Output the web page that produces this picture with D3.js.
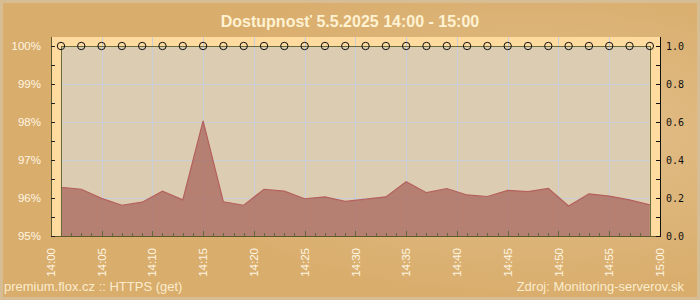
<!DOCTYPE html>
<html>
<head>
<meta charset="utf-8">
<script src="https://cdn.jsdelivr.net/npm/d3@7"></script>
<style>
  body { margin: 0; background: #dbb06e; }
  svg { display: block; }
</style>
</head>
<body>
<div id="graph"></div>
<script>
// chart data
var title = "Dostupnosť 5.5.2025 14:00 - 15:00";
var sourceLeft = "premium.flox.cz :: HTTPS (get)";
var sourceRight = "Zdroj: Monitoring-serverov.sk";

// sample minutes after 14:00 (one sample every 2 minutes)
var minutes = [1, 3, 5, 7, 9, 11, 13, 15, 17, 19, 21, 23, 25, 27, 29,
               31, 33, 35, 37, 39, 41, 43, 45, 47, 49, 51, 53, 55, 57, 59];
// availability in %
var availability = [96.28, 96.23, 95.99, 95.81, 95.89, 96.18, 95.95, 98.03, 95.90, 95.81,
                    96.23, 96.18, 95.98, 96.03, 95.91, 95.97, 96.03, 96.43, 96.14, 96.25,
                    96.08, 96.04, 96.20, 96.17, 96.25, 95.79, 96.11, 96.05, 95.95, 95.82];
// up state (right axis)
var upState = [1, 1, 1, 1, 1, 1, 1, 1, 1, 1, 1, 1, 1, 1, 1,
               1, 1, 1, 1, 1, 1, 1, 1, 1, 1, 1, 1, 1, 1, 1];

var pctTicks = [95, 96, 97, 98, 99, 100];
var pctMinor = [95.5, 96.5, 97.5, 98.5, 99.5];
var stateTicks = [0, 0.2, 0.4, 0.6, 0.8, 1.0];
var stateMinor = [0.1, 0.3, 0.5, 0.7, 0.9];
var timeLabels = ["14:00", "14:05", "14:10", "14:15", "14:20", "14:25", "14:30",
                  "14:35", "14:40", "14:45", "14:50", "14:55", "15:00"];

var w = 700;
var h = 300;

var vis = d3.select("#graph")
  .append("svg")
  .attr("width", w)
  .attr("height", h);

var defs = vis.append("defs");
var glow = defs.append("radialGradient")
  .attr("id", "glow")
  .attr("cx", "0.75").attr("cy", "0.45").attr("r", "0.55");
glow.append("stop").attr("offset", "0").attr("stop-color", "#e2c08c");
glow.append("stop").attr("offset", "1").attr("stop-color", "#d9ad6c");

// outer background + frame
vis.append("rect")
  .attr("x", 0).attr("y", 0)
  .attr("width", w).attr("height", h)
  .attr("fill", "url(#glow)");
vis.append("rect")
  .attr("x", 1.5).attr("y", 1.5)
  .attr("width", w - 3).attr("height", h - 3)
  .attr("fill", "none")
  .attr("stroke", "#d7bd93")
  .attr("stroke-width", 3);

// scales
var x = d3.scaleLinear().domain([0, 60]).range([50.8, 660]);
var y = d3.scaleLinear().domain([95, 100]).range([236, 46]);
var y2 = d3.scaleLinear().domain([0, 1]).range([236, 46]);

var pnLeft = 51, pnRight = 660, pnTop = 37, pnBottom = 236;
var pLeft = x(1), pRight = x(59);

// peach panel
vis.append("rect")
  .attr("x", pnLeft).attr("y", pnTop)
  .attr("width", pnRight - pnLeft).attr("height", pnBottom - pnTop)
  .attr("fill", "#ffdb9f");

// inner plot area
vis.append("rect")
  .attr("x", pLeft).attr("y", y(100))
  .attr("width", pRight - pLeft).attr("height", pnBottom - y(100))
  .attr("fill", "#dccdb2");

// grid
vis.selectAll(".hgrid")
  .data(pctTicks.slice(1, 5))
  .enter()
  .append("line")
  .attr("class", "hgrid")
  .attr("x1", pLeft).attr("x2", pRight)
  .attr("y1", function(d) { return y(d) + 0.5; })
  .attr("y2", function(d) { return y(d) + 0.5; })
  .style("stroke", "#c8cdd8");

vis.selectAll(".vgrid")
  .data(d3.range(5, 60, 5))
  .enter()
  .append("line")
  .attr("class", "vgrid")
  .attr("x1", function(d) { return Math.round(x(d)) + 0.5; })
  .attr("x2", function(d) { return Math.round(x(d)) + 0.5; })
  .attr("y1", pnTop).attr("y2", pnBottom)
  .style("stroke", "#c8cdd8");

// availability area
var series = minutes.map(function(m, i) { return {m: m, v: availability[i]}; });

var area = d3.area()
  .x(function(d) { return x(d.m); })
  .y0(pnBottom)
  .y1(function(d) { return y(d.v); });

var line = d3.line()
  .x(function(d) { return x(d.m); })
  .y(function(d) { return y(d.v); });

vis.append("path")
  .datum(series)
  .attr("d", area)
  .attr("fill", "#a8675c")
  .attr("fill-opacity", 0.76);

vis.append("path")
  .datum(series)
  .attr("d", line)
  .attr("fill", "none")
  .style("stroke", "#b4615c")
  .style("stroke-width", 1.2);

// plot border
vis.append("rect")
  .attr("x", Math.round(pLeft) + 0.5).attr("y", y(100) + 0.5)
  .attr("width", Math.round(pRight) - Math.round(pLeft)).attr("height", pnBottom - y(100))
  .attr("fill", "none")
  .style("stroke", "#6b6c3c");

// bottom minute ticks
vis.selectAll(".xtick")
  .data(d3.range(1, 60))
  .enter()
  .append("line")
  .attr("class", "xtick")
  .attr("x1", function(d) { return Math.round(x(d)) + 0.5; })
  .attr("x2", function(d) { return Math.round(x(d)) + 0.5; })
  .attr("y1", pnBottom)
  .attr("y2", function(d) { return d % 5 === 0 ? pnBottom - 5 : pnBottom - 3; })
  .style("stroke", "#5f6a38");

// panel bottom line
vis.append("line")
  .attr("x1", pnLeft).attr("x2", pnRight)
  .attr("y1", pnBottom + 0.5).attr("y2", pnBottom + 0.5)
  .style("stroke", "#5f5a30");

// left axis
vis.append("line")
  .attr("x1", pnLeft + 0.5).attr("x2", pnLeft + 0.5)
  .attr("y1", pnTop).attr("y2", pnBottom + 1)
  .style("stroke", "#5f5a30");

vis.selectAll(".ltick")
  .data(pctTicks.concat(pctMinor))
  .enter()
  .append("line")
  .attr("class", "ltick")
  .attr("x1", pnLeft).attr("x2", pnLeft + 4)
  .attr("y1", function(d) { return Math.round(y(d)) + 0.5; })
  .attr("y2", function(d) { return Math.round(y(d)) + 0.5; })
  .style("stroke", "#222");

vis.selectAll(".llabel")
  .data(pctTicks)
  .enter()
  .append("text")
  .attr("class", "llabel")
  .attr("x", 41)
  .attr("y", function(d) { return y(d); })
  .attr("dy", "0.36em")
  .attr("text-anchor", "end")
  .style("font-family", "'Liberation Sans', Arial, sans-serif")
  .style("font-size", "11.5px")
  .style("fill", "#fff6e2")
  .text(function(d) { return d + "%"; });

// right axis
vis.append("line")
  .attr("x1", pnRight + 0.5).attr("x2", pnRight + 0.5)
  .attr("y1", pnTop).attr("y2", pnBottom + 1)
  .style("stroke", "#111");

vis.selectAll(".rtick")
  .data(stateTicks.concat(stateMinor))
  .enter()
  .append("line")
  .attr("class", "rtick")
  .attr("x1", pnRight - 4).attr("x2", pnRight + 1)
  .attr("y1", function(d) { return Math.round(y2(d)) + 0.5; })
  .attr("y2", function(d) { return Math.round(y2(d)) + 0.5; })
  .style("stroke", "#111");

vis.selectAll(".rlabel")
  .data(stateTicks)
  .enter()
  .append("text")
  .attr("class", "rlabel")
  .attr("x", 666)
  .attr("y", function(d) { return y2(d); })
  .attr("dy", "0.4em")
  .style("font-family", "'DejaVu Sans Mono', monospace")
  .style("font-size", "10px")
  .style("fill", "#111")
  .text(function(d) { return d.toFixed(1); });

// up-state markers
vis.selectAll(".state")
  .data(upState)
  .enter()
  .append("circle")
  .attr("class", "state")
  .attr("cx", function(d, i) { return x(minutes[i]); })
  .attr("cy", function(d) { return y2(d); })
  .attr("r", 3.7)
  .attr("fill", "none")
  .style("stroke", "#111");

// time labels
vis.selectAll(".xlabel")
  .data(timeLabels)
  .enter()
  .append("text")
  .attr("class", "xlabel")
  .attr("transform", function(d, i) { return "translate(" + x(i * 5) + ",248) rotate(-90)"; })
  .attr("dy", "0.36em")
  .attr("text-anchor", "end")
  .style("font-family", "'Liberation Sans', Arial, sans-serif")
  .style("font-size", "11.5px")
  .style("fill", "#fff6e2")
  .text(function(d) { return d; });

// title
vis.append("text")
  .attr("x", 350).attr("y", 27)
  .attr("text-anchor", "middle")
  .style("font-family", "'Liberation Sans', Arial, sans-serif")
  .style("font-weight", "bold")
  .style("font-size", "16px")
  .style("fill", "#fff2d2")
  .text(title);

// footer
vis.append("text")
  .attr("x", 4).attr("y", 291)
  .style("font-family", "'Liberation Sans', Arial, sans-serif")
  .style("font-size", "13px")
  .style("fill", "#fbeccc")
  .text(sourceLeft);

vis.append("text")
  .attr("x", 684).attr("y", 291)
  .attr("text-anchor", "end")
  .style("font-family", "'Liberation Sans', Arial, sans-serif")
  .style("font-size", "13px")
  .style("fill", "#fbeccc")
  .text(sourceRight);
</script>
</body>
</html>
